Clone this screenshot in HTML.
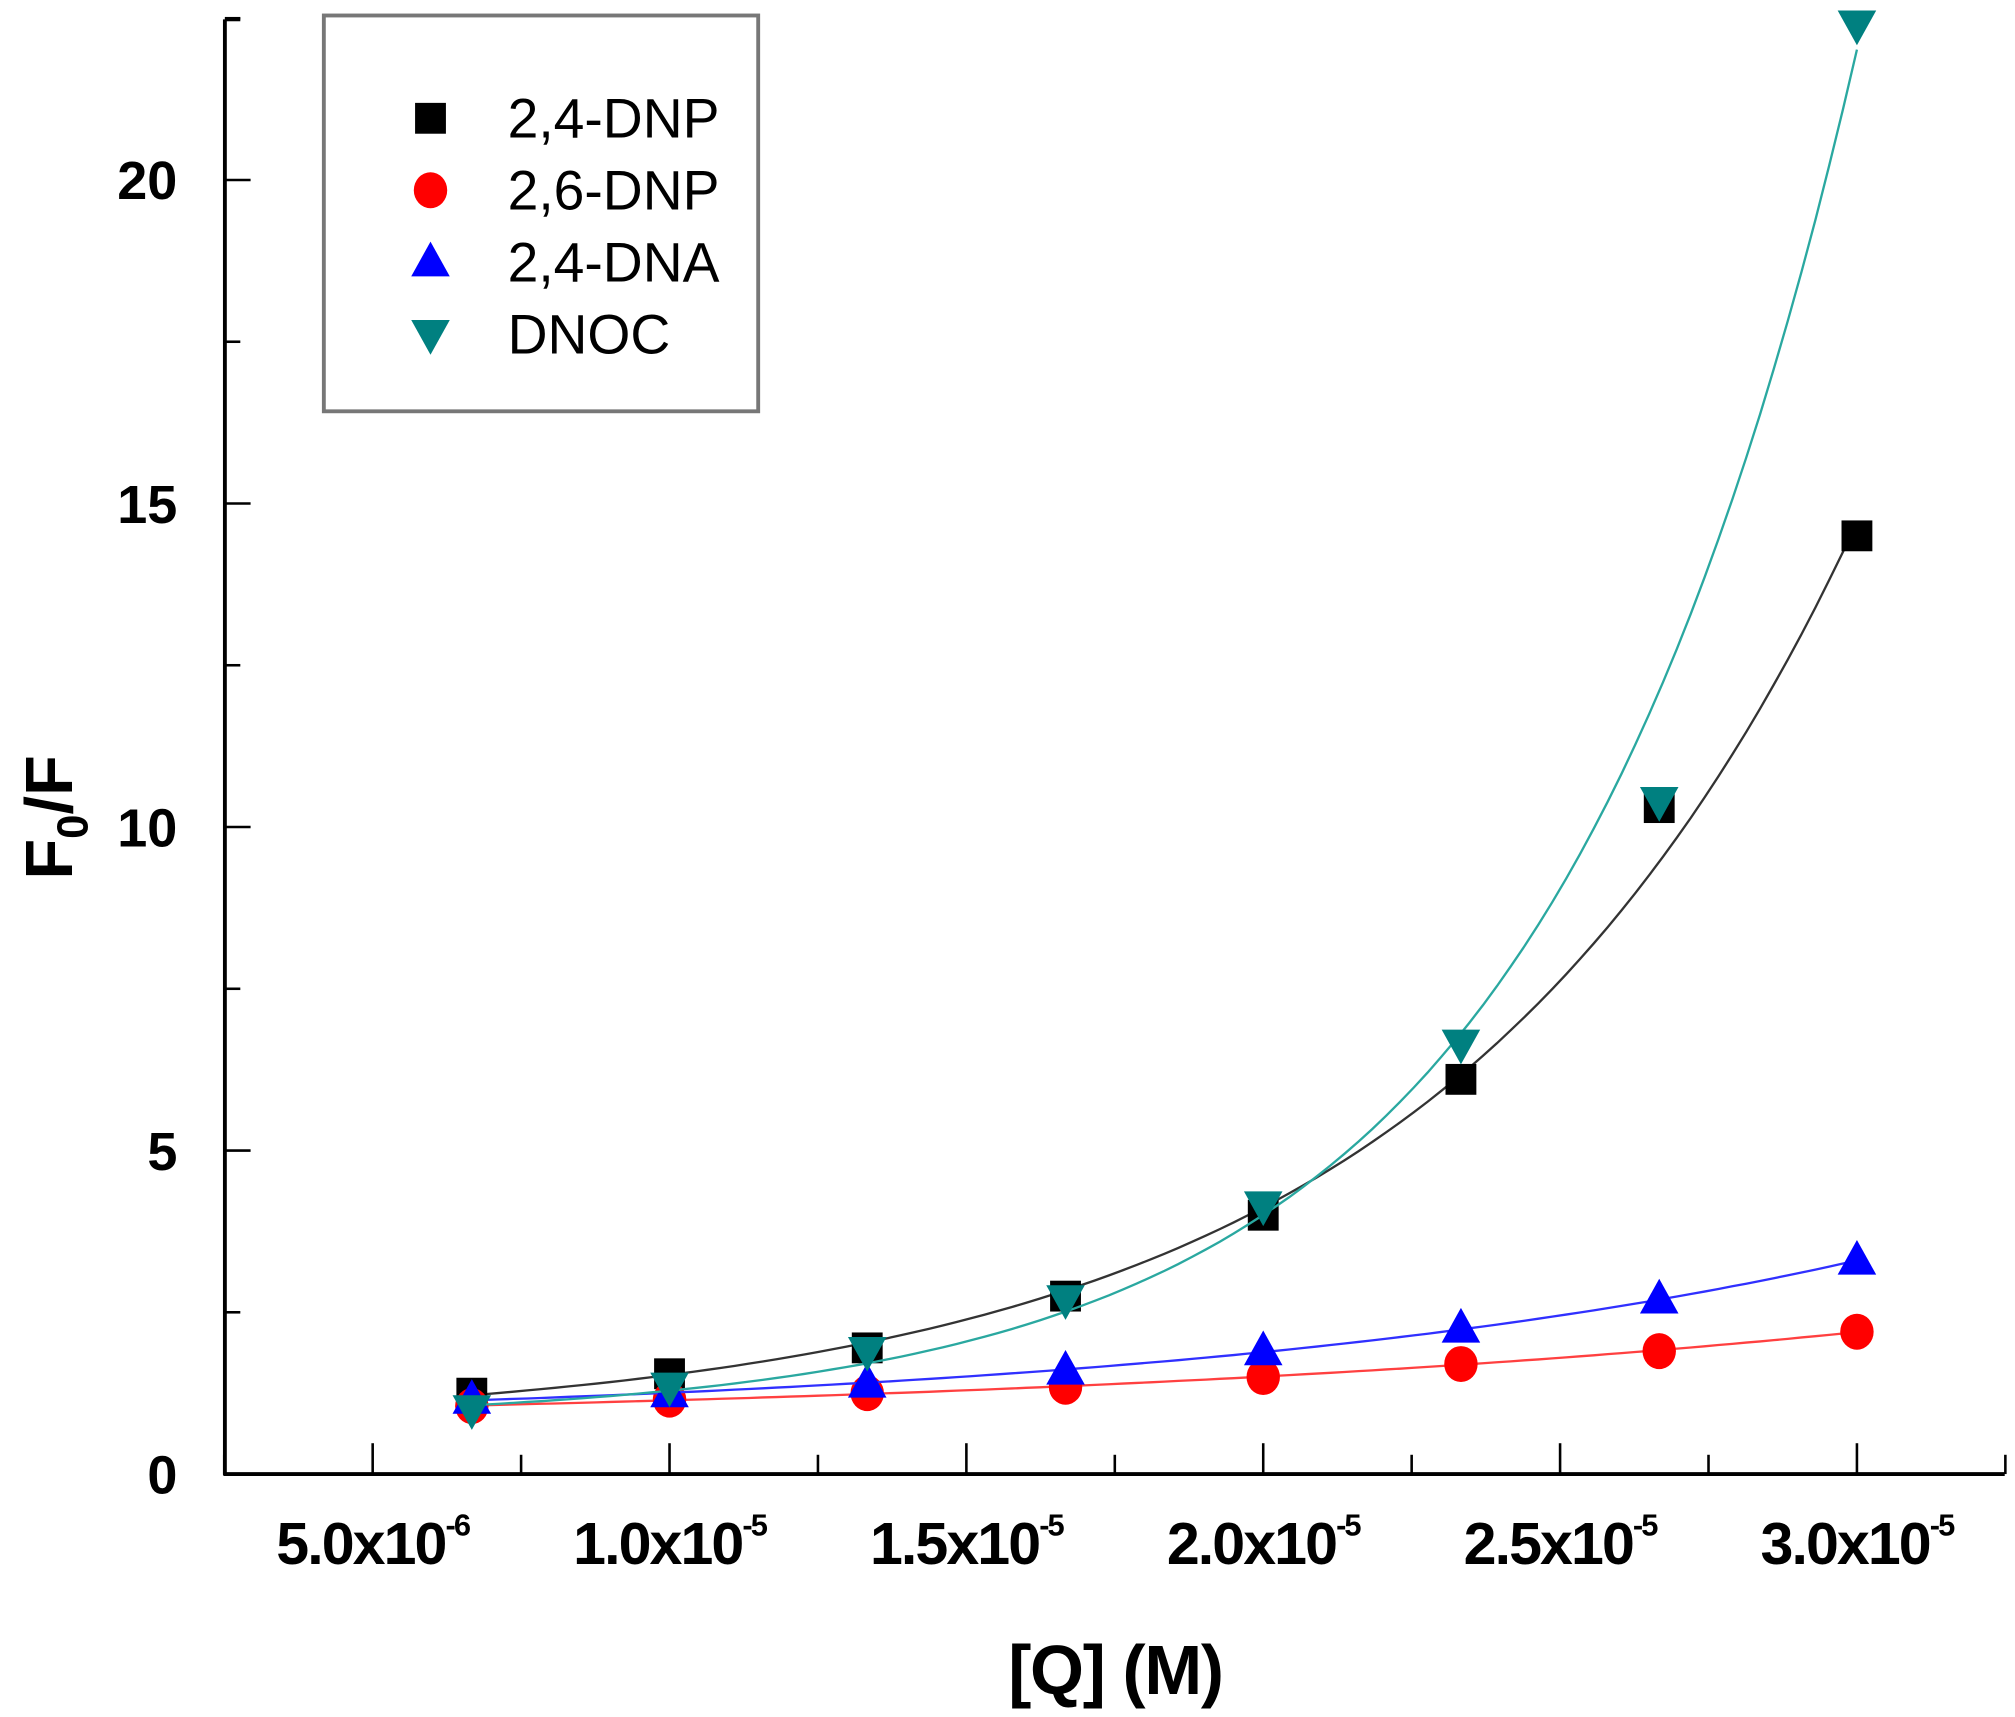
<!DOCTYPE html>
<html><head><meta charset="utf-8"><style>
html,body{margin:0;padding:0;background:#fff;}
svg{display:block;}
text{font-family:"Liberation Sans",Arial,sans-serif;}
</style></head><body>
<svg id="chart" width="2015" height="1717" viewBox="0 0 1568 1336" xmlns="http://www.w3.org/2000/svg">
<g id="axes"></g>
<g id="series"></g>
<text x="868" y="1318" font-size="54" font-weight="bold" text-anchor="middle" letter-spacing="-1">[Q] (M)</text>
<text transform="translate(56,636) rotate(-90)" font-size="52" font-weight="bold" text-anchor="middle">F<tspan font-size="34" dy="12">0</tspan><tspan dy="-12">/F</tspan></text>
<g>
<rect x="252" y="12" width="338" height="308" fill="#fff" stroke="#777" stroke-width="3"/>
<g id="legend-entries"></g>
</g>
</svg>
<script>
const xValues = [6.67e-6, 1.0e-5, 1.333e-5, 1.667e-5, 2.0e-5, 2.333e-5, 2.667e-5, 3.0e-5];
const seriesNames = ["2,4-DNP", "2,6-DNP", "2,4-DNA", "DNOC"];
const dnp24 = [1.25, 1.55, 1.95, 2.75, 4.0, 6.1, 10.3, 14.5];
const dnp26 = [1.05, 1.15, 1.25, 1.35, 1.5, 1.7, 1.9, 2.2];
const dna24 = [1.15, 1.25, 1.4, 1.6, 1.9, 2.25, 2.7, 3.3];
const dnoc = [1.0, 1.35, 1.9, 2.7, 4.15, 6.65, 10.4, 22.4];
const xTicks = [5e-6, 1e-5, 1.5e-5, 2e-5, 2.5e-5, 3e-5];
const xTickMant = ["5.0", "1.0", "1.5", "2.0", "2.5", "3.0"];
const xTickExp = ["-6", "-5", "-5", "-5", "-5", "-5"];
const yTicks = [0, 5, 10, 15, 20];

const NS = "http://www.w3.org/2000/svg";
const X0 = 175, XR = 1560, YB = 1147, YT = 15;
function xs(v){ return 290 + (v - 5e-6) / 1e-6 * 46.2; }
function ys(v){ return YB - v * (YB - 140) / 20; }
function el(tag, attrs, parent){
  const e = document.createElementNS(NS, tag);
  for (const k in attrs) e.setAttribute(k, attrs[k]);
  parent.appendChild(e); return e;
}
const axes = document.getElementById('axes');
let a = el('line', {x1:X0,y1:YT,x2:X0,y2:YB+1,stroke:'#000','stroke-width':3}, axes);


a = el('line', {x1:X0-1,y1:YB,x2:XR,y2:YB,stroke:'#000','stroke-width':3}, axes);


el('line',{x1:X0,y1:YT,x2:X0+12,y2:YT,stroke:'#000','stroke-width':3},axes);
for (let i = 0; i < xTicks.length; i++) {
  const x = xs(xTicks[i]);
  el('line',{x1:x,y1:YB,x2:x,y2:YB-24,stroke:'#000','stroke-width':2},axes);
  const m = xs(xTicks[i] + 2.5e-6);
  if (m <= XR+1) el('line',{x1:m,y1:YB,x2:m,y2:YB-15,stroke:'#000','stroke-width':2},axes);
  const t = el('text',{x:x,y:1217,'font-size':46,'font-weight':'bold','text-anchor':'middle','letter-spacing':-1.5},axes);
  
  
  t.textContent = xTickMant[i] + 'x10';
  const s = el('tspan',{'font-size':24,dy:-22},t);
  s.textContent = xTickExp[i];
}
el('line',{x1:xs(2.5e-6),y1:YB,x2:xs(2.5e-6),y2:YB-15,stroke:'#000','stroke-width':2},axes);
for (let i = 0; i < yTicks.length; i++) {
  const y = ys(yTicks[i]);
  el('line',{x1:X0,y1:y,x2:X0+20,y2:y,stroke:'#000','stroke-width':2},axes);
  const m = ys(yTicks[i] + 2.5);
  el('line',{x1:X0,y1:m,x2:X0+12,y2:m,stroke:'#000','stroke-width':2},axes);
  const t = el('text',{x:138,y:y+15,'font-size':42,'font-weight':'bold','text-anchor':'end'},axes);
  
  
  t.textContent = yTicks[i];
}
const colors = ['#000000','#ff0000','#0000ff','#008080'];
const lineColors = ['#333333','#ff4040','#3030ff','#2aa8a0'];
const shapes = ['square','circle','up','down'];
const allData = [dnp24, dnp26, dna24, dnoc];
function marker(shape, x, y, c, parent){
  if (shape==='square') return el('rect',{x:x-12,y:y-12,width:24,height:24,fill:c},parent);
  if (shape==='circle') return el('ellipse',{cx:x,cy:y,rx:13,ry:14,fill:c},parent);
  if (shape==='up') return el('polygon',{points:`${x},${y-16} ${x-15},${y+11} ${x+15},${y+11}`,fill:c},parent);
  return el('polygon',{points:`${x-15},${y-11} ${x+15},${y-11} ${x},${y+16}`,fill:c},parent);
}
function fitLog(xsArr, ysArr, c){
  const n = xsArr.length; let sx=0,sy=0,sxx=0,sxy=0;
  for (let i=0;i<n;i++){const X=xsArr[i]*1e5,Y=Math.log(ysArr[i]-c);sx+=X;sy+=Y;sxx+=X*X;sxy+=X*Y;}
  const b=(n*sxy-sx*sy)/(n*sxx-sx*sx), a=(sy-b*sx)/n;
  return v => c + Math.exp(a + b*v*1e5);
}
function fitExp(xsArr, ysArr){
  const mn = Math.min(...ysArr);
  let best=null, bestErr=Infinity;
  for (let k=0;k<200;k++){
    const c = (mn-0.01)*k/200;
    const f = fitLog(xsArr, ysArr, c);
    let e=0; for (let i=0;i<xsArr.length;i++){const r=f(xsArr[i])-ysArr[i]; e+=r*r;}
    if (e<bestErr){bestErr=e;best=f;}
  }
  return best;
}
const seriesG = document.getElementById('series');
for (let s = 0; s < allData.length; s++) {
  const g = el('g',{},seriesG);
  
  
  const f = fitExp(xValues, allData[s]);
  let d='';
  for (let k=0;k<=100;k++){
    const v = xValues[0] + (xValues[xValues.length-1]-xValues[0])*k/100;
    d += (k?'L':'M') + xs(v).toFixed(1) + ',' + ys(f(v)).toFixed(1);
  }
  const p = el('path',{d:d,fill:'none',stroke:lineColors[s],'stroke-width':1.8},g);
  
  
}
for (let s = 0; s < allData.length; s++) {
  const g = seriesG.children[s];
  for (let i=0;i<xValues.length;i++){
    const m = marker(shapes[s], xs(xValues[i]), ys(allData[s][i]), colors[s], g);
    
    
  }
}
const lg = document.getElementById('legend-entries');
for (let s = 0; s < seriesNames.length; s++) {
  const y = 92 + s*56;
  const g = el('g',{},lg);
  
  
  marker(shapes[s], 335, y, colors[s], g);
  const t = el('text',{x:395,y:y+15,'font-size':43},g);
  t.textContent = seriesNames[s];
}
</script>
</body></html>
